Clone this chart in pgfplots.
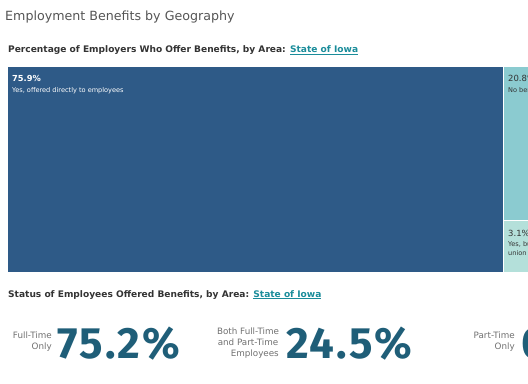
\documentclass[border=0pt]{standalone}
\usepackage{pgfplots}
\pgfplotsset{compat=1.18}
\usepackage{fontspec}
\setmainfont{DejaVu Sans}
\newfontfamily\numfont[LetterSpace=5]{Fira Sans}
\definecolor{bigblue}{HTML}{2E5A87}
\definecolor{teal1}{HTML}{8BCBD0}
\definecolor{teal2}{HTML}{B4E0DA}
\definecolor{numcol}{HTML}{1F5E78}
\definecolor{linkcol}{HTML}{1A8C9A}
\definecolor{titlegray}{HTML}{555555}
\definecolor{labgray}{HTML}{707070}
\definecolor{darktxt}{HTML}{333333}
\begin{document}
\begin{tikzpicture}
\useasboundingbox (0,0) rectangle (528bp,384bp);
\clip (0,0) rectangle (528bp,384bp);
\begin{axis}[at={(0,0)}, anchor=south west, width=528bp, height=384bp, scale only axis,
  xmin=0, xmax=528, ymin=0, ymax=384, y dir=reverse, hide axis, clip=false]
% treemap rectangles (pixel layout; widths proportional to shares)
\addplot[fill=bigblue, draw=none] coordinates {(8,67) (503,67) (503,272) (8,272)} -- cycle;
\addplot[fill=teal1, draw=none] coordinates {(504,67) (660,67) (660,220) (504,220)} -- cycle;
\addplot[fill=teal2, draw=none] coordinates {(504,221) (660,221) (660,272) (504,272)} -- cycle;
% titles
\node[anchor=base west, inner sep=0, text=titlegray, font=\fontsize{12.7}{14}\selectfont] at (axis cs:5,21) {Employment Benefits by Geography};
\node[anchor=base west, inner sep=0, text=darktxt, font=\bfseries\fontsize{9.1}{10}\selectfont] at (axis cs:8,53) {Percentage of Employers Who Offer Benefits, by Area: \textcolor{linkcol}{\underline{State of Iowa}}};
\node[anchor=base west, inner sep=0, text=darktxt, font=\bfseries\fontsize{9.1}{10}\selectfont] at (axis cs:8,297) {Status of Employees Offered Benefits, by Area: \textcolor{linkcol}{\underline{State of Iowa}}};
% treemap labels
\node[anchor=base west, inner sep=0, text=white, font=\bfseries\fontsize{8.3}{10}\selectfont] at (axis cs:12,82) {75.9\%};
\node[anchor=base west, inner sep=0, text=white, font=\fontsize{6.6}{8}\selectfont] at (axis cs:12,92) {Yes, offered directly to employees};
\node[anchor=base west, inner sep=0, text=darktxt, font=\fontsize{8.5}{10}\selectfont] at (axis cs:508,82) {20.8\%};
\node[anchor=base west, inner sep=0, text=darktxt, font=\fontsize{6.6}{8}\selectfont] at (axis cs:508,92) {No benefits offered};
\node[anchor=base west, inner sep=0, text=darktxt, font=\fontsize{8.5}{10}\selectfont] at (axis cs:508,236) {3.1\%};
\node[anchor=base west, inner sep=0, text=darktxt, font=\fontsize{6.6}{8}\selectfont, align=left] at (axis cs:508,246) {Yes, but through a};
\node[anchor=base west, inner sep=0, text=darktxt, font=\fontsize{6.6}{8}\selectfont, align=left] at (axis cs:508,255) {union or association};
% KPI labels
\node[anchor=base east, inner sep=0, text=labgray, font=\fontsize{8.8}{10}\selectfont] at (axis cs:52,338) {Full-Time};
\node[anchor=base east, inner sep=0, text=labgray, font=\fontsize{8.8}{10}\selectfont] at (axis cs:52,349) {Only};
\node[anchor=base west, inner sep=0, text=numcol, font=\numfont\bfseries\fontsize{44}{48}\selectfont] at (axis cs:57,358) {75.2\%};
\node[anchor=base, inner sep=0, text=labgray, font=\fontsize{8.8}{10}\selectfont] at (axis cs:248,334) {Both Full-Time};
\node[anchor=base, inner sep=0, text=labgray, font=\fontsize{8.8}{10}\selectfont] at (axis cs:248,345) {and Part-Time};
\node[anchor=base east, inner sep=0, text=labgray, font=\fontsize{8.8}{10}\selectfont] at (axis cs:279,356) {Employees};
\node[anchor=base west, inner sep=0, text=numcol, font=\numfont\bfseries\fontsize{44}{48}\selectfont] at (axis cs:286,358) {24.5\%};
\node[anchor=base east, inner sep=0, text=labgray, font=\fontsize{8.8}{10}\selectfont] at (axis cs:515,338) {Part-Time};
\node[anchor=base east, inner sep=0, text=labgray, font=\fontsize{8.8}{10}\selectfont] at (axis cs:515,349) {Only};
\node[anchor=base west, inner sep=0, text=numcol, font=\numfont\bfseries\fontsize{44}{48}\selectfont] at (axis cs:521,358) {0.3\%};
\end{axis}
\end{tikzpicture}
\end{document}
